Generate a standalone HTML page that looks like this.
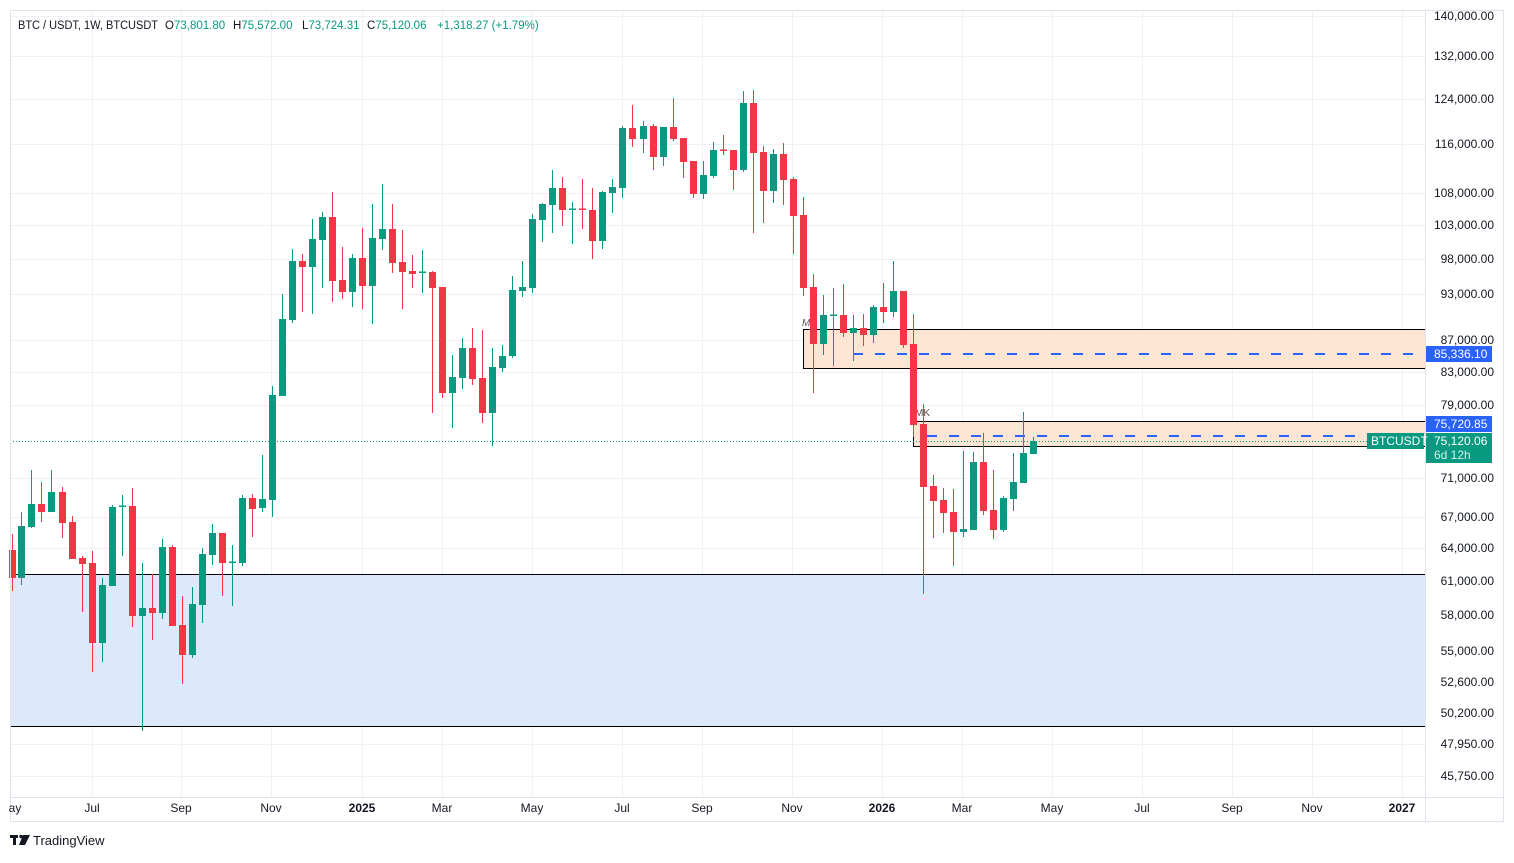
<!DOCTYPE html>
<html><head><meta charset="utf-8"><style>
html,body{margin:0;padding:0;background:#fff;}
body{width:1514px;height:858px;overflow:hidden;font-family:"Liberation Sans",sans-serif;}
svg text{font-family:"Liberation Sans",sans-serif;}
</style></head><body>
<svg id="s" width="1514" height="858" xmlns="http://www.w3.org/2000/svg">
<rect x="0" y="0" width="1514" height="858" fill="#fff"/>
<g id="grid" stroke="#f0f1f4" stroke-width="1"></g>
<rect x="10" y="574" width="1415" height="152" fill="#dde9fb"/>
<line x1="10" y1="574.5" x2="1425" y2="574.5" stroke="#000" stroke-width="1"/>
<line x1="10" y1="726.5" x2="1425" y2="726.5" stroke="#000" stroke-width="1"/>
<rect x="803.5" y="329.5" width="622" height="39" fill="#fde5d4" stroke="#000" stroke-width="1"/>
<rect x="913.5" y="421.5" width="512" height="25" fill="#fde5d4" stroke="#000" stroke-width="1"/>
<line x1="853" y1="354" x2="1425" y2="354" stroke="#2962ff" stroke-width="2" stroke-dasharray="10,12"/>
<line x1="927" y1="436" x2="1425" y2="436" stroke="#2962ff" stroke-width="2" stroke-dasharray="10,12"/>
<line x1="10" y1="441.5" x2="1425" y2="441.5" stroke="#089981" stroke-width="1" stroke-dasharray="1,2"/>
<text x="802" y="326" font-size="10" fill="#555" font-style="italic">M</text>
<text x="915" y="416" font-size="10" fill="#555">MK</text>
<g id="c"></g>
<rect x="10.5" y="10.5" width="1493" height="811" fill="none" stroke="#e0e3eb"/>
<line x1="1425.5" y1="10" x2="1425.5" y2="822" stroke="#e0e3eb"/>
<line x1="10" y1="797.5" x2="1504" y2="797.5" stroke="#e0e3eb"/>
<g id="axis" font-size="12" fill="#131722"></g>
<g id="tax" font-size="12" fill="#131722"></g>
<g font-size="11.5" fill="#131722">
<text x="18" y="29" textLength="140" lengthAdjust="spacingAndGlyphs">BTC / USDT, 1W, BTCUSDT</text>
<text x="165" y="29">O<tspan fill="#089981">73,801.80</tspan></text>
<text x="233" y="29">H<tspan fill="#089981">75,572.00</tspan></text>
<text x="302" y="29">L<tspan fill="#089981">73,724.31</tspan></text>
<text x="367" y="29">C<tspan fill="#089981">75,120.06</tspan></text>
<text x="437" y="29" fill="#089981">+1,318.27 (+1.79%)</text>
</g>
<rect x="1426" y="346" width="66" height="16" fill="#2962ff"/>
<text x="1434" y="358" font-size="12" fill="#fff">85,336.10</text>
<rect x="1426" y="416" width="66" height="16" fill="#2962ff"/>
<text x="1434" y="428" font-size="12" fill="#fff">75,720.85</text>
<rect x="1426" y="433" width="66" height="30" fill="#089981"/>
<text x="1434" y="445" font-size="12" fill="#fff">75,120.06</text>
<text x="1434" y="459" font-size="12" fill="#d7f0eb">6d 12h</text>
<rect x="1367" y="433" width="57" height="16" fill="#089981"/>
<text x="1371" y="445" font-size="12" fill="#fff">BTCUSDT</text>
<g fill="#131722">
<rect x="10" y="835" width="8" height="3"/><rect x="13" y="835" width="3" height="10"/>
<circle cx="21" cy="836.5" r="1.7"/><polygon points="23,835 30,835 25,845 19,845"/>
</g>
<text x="33" y="845" font-size="13" fill="#131722">TradingView</text>
</svg>
<script>
var NS="http://www.w3.org/2000/svg";
function el(p,t,a,txt){var e=document.createElementNS(NS,t);for(var k in a)e.setAttribute(k,a[k]);if(txt)e.textContent=txt;p.appendChild(e);return e;}
var grid=document.getElementById('grid'),axis=document.getElementById('axis'),tax=document.getElementById('tax'),cg=document.getElementById('c');
var P=[["140,000.00",16],["132,000.00",56],["124,000.00",99],["116,000.00",144],["108,000.00",193],["103,000.00",225],["98,000.00",259],["93,000.00",294],["87,000.00",340],["83,000.00",372],["79,000.00",405],["71,000.00",478],["67,000.00",517],["64,000.00",548],["61,000.00",581],["58,000.00",615],["55,000.00",651],["52,600.00",682],["50,200.00",713],["47,950.00",744],["45,750.00",776]];
P.forEach(function(p){el(grid,'line',{x1:10,x2:1425,y1:p[1]+.5,y2:p[1]+.5});el(axis,'text',{x:1494,y:p[1]+4,'text-anchor':'end'},p[0]);});
var T=[["ay",15],["Jul",92],["Sep",181],["Nov",271],["2025",362,1],["Mar",442],["May",532],["Jul",622],["Sep",702],["Nov",792],["2026",882,1],["Mar",962],["May",1052],["Jul",1142],["Sep",1232],["Nov",1312],["2027",1402,1]];
T.forEach(function(t){if(t[0]!="ay")el(grid,'line',{x1:t[1]+.5,x2:t[1]+.5,y1:10,y2:797});el(tax,'text',{x:t[1],y:812,'text-anchor':'middle','font-weight':t[2]?'bold':'normal'},t[0]);});
var D=[[12,0,550,578,534,591],[21,1,526,578,512,585],[31,1,504,527,470,528],[41,0,504,512,482,522],[51,1,492,512,470,512],[62,0,492,523,487,538],[72,0,522,559,516,559],[82,0,558,564,556,612],[92,0,563,643,551,672],[102,1,585,643,578,662],[112,1,507,586,505,586],[122,1,505.5,507,495,556],[132,0,506,616,488,627],[142,1,608,616,563,731],[152,0,608,613,574,640],[162,1,547,613,539,619],[172,0,547,626,545,626],[182,0,625,655,596,684],[192,1,604,655,587,658],[202,1,554,605,548,623],[212,1,533,555,524,565],[222,0,533,563,533,596],[232,1,561.5,563,545,606],[242,1,498,563,495,566],[252,0,498,509,494,537],[262,1,499,508,455,512],[272,1,395,500,386,517],[282,1,319,396,294,396],[292,1,261,320,249,323],[302,0,261,267,254,312],[312,1,239,267,219,314],[322,1,217,240,212,288],[332,0,217,281,192,302],[342,0,280,292,247,299],[352,1,258,292,254,307],[362,0,258,286,228,309],[372,1,238,286,204,324],[382,1,229,239,184,250],[392,0,229,263,204,273],[402,0,262,272,230,309],[412,0,271,274,255,288],[422,1,271.5,273,250,293],[432,0,272,288,271,413],[442,0,287,393,287,398],[452,1,377,393,355,428],[462,1,348,378,338,389],[472,0,348,379,328,385],[482,0,378,413,330,423],[492,1,367,413,348,446],[502,1,356,368,345,372],[512,1,290,356,276,358],[522,1,287,291,261,297],[532,1,219,288,214,293],[542,1,204,220,203,242],[552,1,188,205,170,233],[562,0,188,210,177,226],[572,1,208.5,210,202,244],[582,0,208.5,210,179,229],[592,0,210,241,188,259],[602,1,192,241,191,249],[612,1,187,193,179,213],[622,1,128,188,126,198],[632,0,128,139,105,147],[643,1,126,139,121,153],[653,0,126,157,124,170],[663,1,127,157,127,166],[673,0,127,139,98,141],[683,0,138,162,138,178],[693,0,161,194,161,198],[703,1,175,194,161,199],[713,1,150,176,142,178],[723,0,149.5,151,135,155],[733,0,150,170,150,190],[743,1,103,170,91,172],[753,0,103,153,90,233],[763,0,152,191,146,223],[773,1,154,191,149,203],[783,0,154,180,143,205],[793,0,179,216,177,254],[803,0,215,288,197,296],[813,0,287,344,274,393],[823,1,315,344,295,355],[833,1,314.5,316,288,366],[843,0,315,333,284,337],[853,1,328,333,315,361],[863,0,328,335,314,346],[873,1,307,335,305,343],[883,0,307,312,283,323],[893,1,291,312,261,317],[903,0,291,345,291,348],[913,0,344,425,314,437],[923,0,424,487,404,594],[933,0,486,501,475,538],[943,0,500,513,488,533],[953,0,512,532,489,566],[963,1,529,532,451,537],[973,1,462,530,452,530],[983,0,462,511,433,515],[993,0,510,530,470,539],[1003,1,498,530,496,532],[1013,1,482,499,453,511],[1023,1,453,483,412,483],[1033,1,441,454,437,454]];
D.forEach(function(d){var col=d[1]?'#089981':'#f23645';var x=d[0];
el(cg,'line',{x1:x+.5,x2:x+.5,y1:d[4],y2:d[5],stroke:col,'stroke-width':1});
var h=Math.max(1.5,d[3]-d[2]);el(cg,'rect',{x:x-3,y:d[2],width:7,height:h,fill:col});});
</script>
</body></html>
